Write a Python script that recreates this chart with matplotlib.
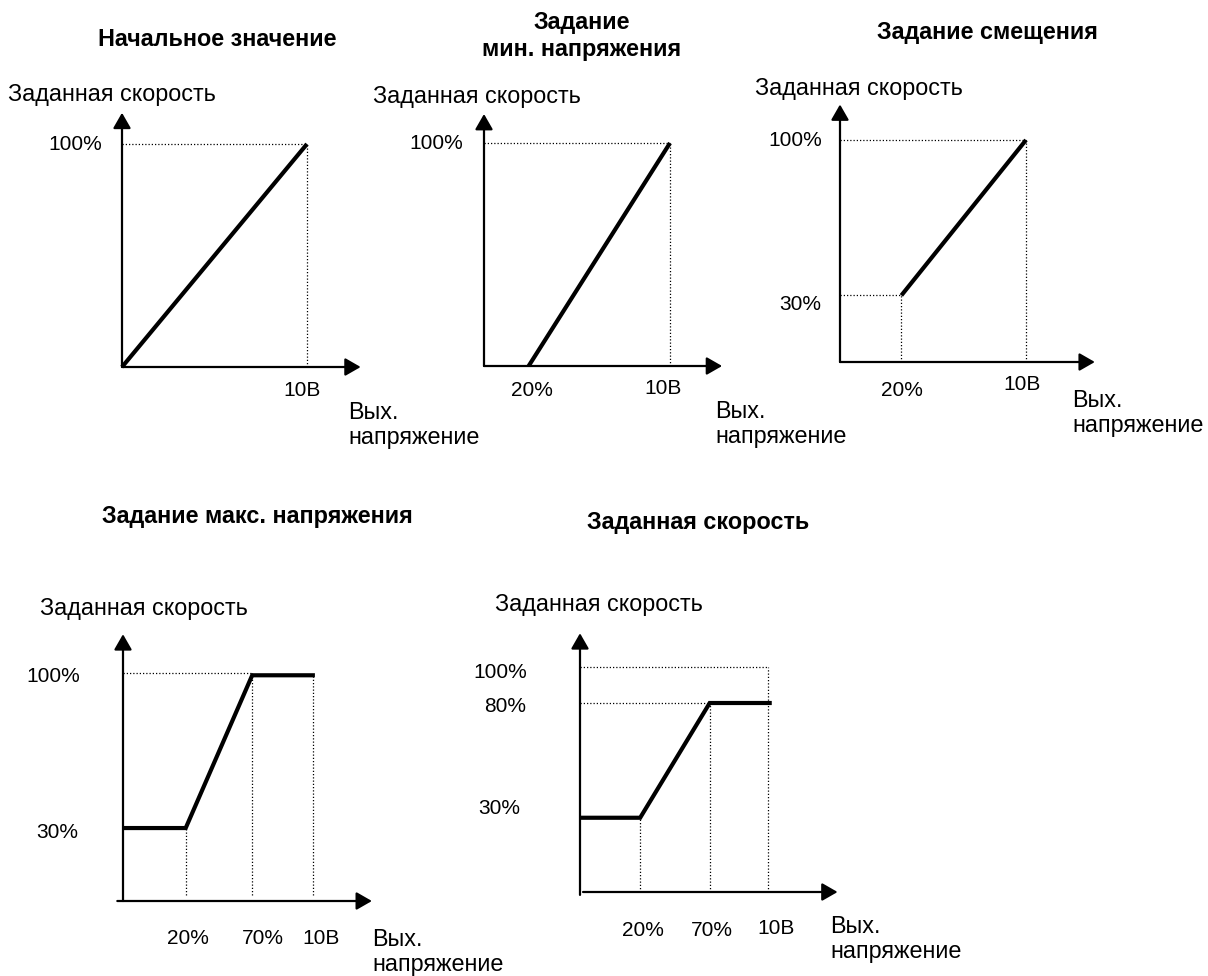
import matplotlib
matplotlib.use("Agg")
import matplotlib.pyplot as plt

plt.rcParams['font.family'] = ['Liberation Sans', 'DejaVu Sans']

W, H = 1208, 976

# ---------------- data ----------------
titles = ["Начальное значение", "Задание\nмин. напряжения", "Задание смещения",
          "Задание макс. напряжения", "Заданная скорость"]
y_axis_label = "Заданная скорость"
x_axis_label = "Вых.\nнапряжение"

curve1_x = [0.0, 1.0]
curve1_y = [0.0, 1.0]
curve2_x = [0.24, 1.0]
curve2_y = [0.0, 1.0]
curve3_x = [0.33, 1.0]
curve3_y = [0.30, 1.0]
curve4_x = [0.0, 0.33, 0.68, 1.01]
curve4_y = [0.32, 0.32, 0.99, 0.99]
curve5_x = [0.0, 0.32, 0.69, 1.02]
curve5_y = [0.33, 0.33, 0.84, 0.84]

xticks1, xlabels1 = [1.0], ["10В"]
xticks2, xlabels2 = [0.24, 1.0], ["20%", "10В"]
xticks3, xlabels3 = [0.33, 1.0], ["20%", "10В"]
xticks4, xlabels4 = [0.33, 0.68, 1.0], ["20%", "70%", "10В"]
xticks5, xlabels5 = [0.32, 0.69, 1.0], ["20%", "70%", "10В"]

yticks1, ylabels1 = [1.0], ["100%"]
yticks2, ylabels2 = [1.0], ["100%"]
yticks3, ylabels3 = [0.30, 1.0], ["30%", "100%"]
yticks4, ylabels4 = [0.32, 1.0], ["30%", "100%"]
yticks5, ylabels5 = [0.33, 0.84, 1.0], ["30%", "80%", "100%"]

# dotted guides: horizontal (level, x_end), vertical (x, y_top)
hguides = [[(1.0, 1.0)], [(1.0, 1.0)], [(1.0, 1.0), (0.30, 0.33)],
           [(1.0, 0.68)], [(1.0, 1.0), (0.84, 0.69)]]
vguides = [[(1.0, 1.0)], [(1.0, 1.0)], [(1.0, 1.0), (0.33, 0.30)],
           [(0.33, 0.32), (0.68, 1.0), (1.0, 0.99)],
           [(1.0, 1.0), (0.32, 0.33), (0.69, 0.84)]]

curves = [(curve1_x, curve1_y), (curve2_x, curve2_y), (curve3_x, curve3_y),
          (curve4_x, curve4_y), (curve5_x, curve5_y)]
xticks = [(xticks1, xlabels1), (xticks2, xlabels2), (xticks3, xlabels3),
          (xticks4, xlabels4), (xticks5, xlabels5)]
yticks = [(yticks1, ylabels1), (yticks2, ylabels2), (yticks3, ylabels3),
          (yticks4, ylabels4), (yticks5, ylabels5)]

# ---------------- layout (pixels) ----------------
origins = [(122, 367), (484, 366), (840, 362), (123, 901), (580, 892)]
units = [(185, 223), (186, 223), (186, 222), (190, 228), (188, 225)]
x_axis_ext = [(0.0, 1.29), (0.0, 1.28), (0.0, 1.37), (-0.03, 1.31), (0.016, 1.37)]
y_axis_ext = [(0.0, 1.14), (0.0, 1.13), (0.0, 1.16), (0.0, 1.17), (-0.013, 1.15)]
guide_bottom = [0.0, 0.0, 0.0, 0.026, 0.0]

title_pos = [(217, 40), (582, 36), (987, 33), (257, 517), (698, 523)]
ylab_pos = [(8, 95), (373, 97), (755, 88), (40, 608), (495, 605)]
xlab_pos = [(348, 425), (715, 424), (1072, 413), (372, 952), (830, 939)]
xtick_pos = [[(302, 390)], [(532, 390), (663, 388)], [(902, 390), (1022, 385)],
             [(188, 939), (263, 939), (321, 939)],
             [(643, 930), (712, 930), (776, 928)]]
ytick_pos = [[(102, 144)], [(463, 143)], [(821, 305), (822, 140)],
             [(78, 832), (80, 677)], [(520, 808), (526, 707), (527, 673)]]

NUM_FS = 15       # numeric tick labels
LABEL_FS = 16.8   # cyrillic axis labels
TITLE_FS = 16.8   # bold titles

fig = plt.figure(figsize=(W / 100, H / 100), dpi=100)
fig.patch.set_facecolor("white")


def fxy(px, py):
    return px / W, 1 - py / H


arrow_style = "-|>,head_length=0.47,head_width=0.27"
dot_style = (0, (1, 1.6))

for i in range(5):
    ox, oy = origins[i]
    ux, uy = units[i]
    ax = fig.add_axes([ox / W, 1 - oy / H, ux / W, uy / H])
    ax.set_xlim(0, 1)
    ax.set_ylim(0, 1)
    ax.axis("off")

    # axes with arrows
    xs, xe = x_axis_ext[i]
    ys, ye = y_axis_ext[i]
    ax.annotate("", xy=(xe, 0), xytext=(xs, 0), annotation_clip=False,
                arrowprops=dict(arrowstyle=arrow_style, mutation_scale=20,
                                lw=1.6, color="black", shrinkA=0, shrinkB=0))
    ax.annotate("", xy=(0, ye), xytext=(0, ys), annotation_clip=False,
                arrowprops=dict(arrowstyle=arrow_style, mutation_scale=20,
                                lw=1.6, color="black", shrinkA=0, shrinkB=0))

    # dotted guides
    for lvl, xend in hguides[i]:
        ax.plot([0, xend], [lvl, lvl], color="black", lw=0.9,
                linestyle=dot_style, clip_on=False)
    for xv, ytop in vguides[i]:
        ax.plot([xv, xv], [guide_bottom[i], ytop], color="black", lw=0.9,
                linestyle=dot_style, clip_on=False)

    # curve
    cx, cy = curves[i]
    ax.plot(cx, cy, color="black", lw=3.0, solid_capstyle="butt",
            solid_joinstyle="miter", clip_on=False, zorder=5)

    # texts
    fig.text(*fxy(*title_pos[i]), titles[i], ha="center", va="center",
             fontsize=TITLE_FS, fontweight="bold", linespacing=1.25)
    fig.text(*fxy(*ylab_pos[i]), y_axis_label, ha="left", va="center",
             fontsize=LABEL_FS)
    fig.text(*fxy(*xlab_pos[i]), x_axis_label, ha="left", va="center",
             fontsize=LABEL_FS, linespacing=1.1)
    for (px, py), lab in zip(xtick_pos[i], xticks[i][1]):
        fig.text(*fxy(px, py), lab, ha="center", va="center", fontsize=NUM_FS)
    for (px, py), lab in zip(ytick_pos[i], yticks[i][1]):
        fig.text(*fxy(px, py), lab, ha="right", va="center", fontsize=NUM_FS)

fig.savefig("out.png", dpi=100, facecolor="white")
